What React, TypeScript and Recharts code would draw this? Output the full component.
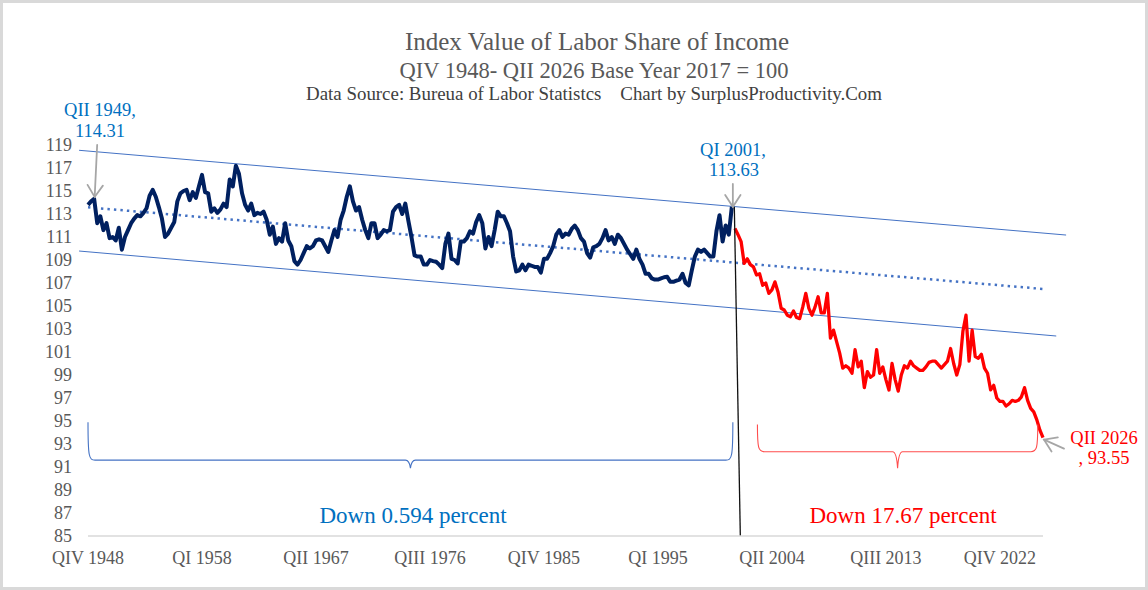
import React from 'react';
import { LineChart, Line, XAxis, YAxis, ReferenceLine } from 'recharts';

// quarterly index, QIV 1948 (index 0) .. QI 2001 (index 209)
const blueValues = [
  113.8, 114.1, 114.31, 112.2, 112.8, 111.6, 112.2, 110.9, 111.0, 110.7,
  111.8, 109.9, 111.0, 111.6, 112.2, 112.6, 112.9, 112.8, 113.1, 113.5,
  114.6, 115.1, 114.5, 113.6, 112.6, 111.0, 111.3, 111.8, 112.3, 114.1,
  114.8, 115.0, 115.1, 114.2, 114.9, 114.4, 115.4, 116.4, 114.9, 114.8,
  113.2, 113.5, 113.1, 113.4, 113.9, 113.6, 116.0, 115.4, 117.2, 116.5,
  114.8, 113.8, 113.3, 113.9, 112.9, 113.1, 113.0, 113.2, 112.5, 111.2,
  111.9, 110.4, 110.9, 110.6, 112.2, 110.7, 110.2, 108.9, 108.6, 109.0,
  109.6, 110.2, 110.0, 110.2, 110.7, 110.8, 110.7, 110.2, 109.7, 110.7,
  111.6, 111.0, 112.5, 113.3, 114.5, 115.4, 114.1, 113.3, 113.6, 112.5,
  111.6, 110.9, 112.2, 112.2, 110.9, 111.2, 111.6, 111.5, 111.6, 113.2,
  113.6, 113.8, 113.0, 113.9, 112.4, 111.0, 109.4, 109.3, 109.3, 108.6,
  108.6, 109.0, 108.9, 108.85, 108.6, 108.3, 110.4, 111.3, 109.1, 109.0,
  108.7, 110.6, 110.6, 110.9, 111.5, 111.3, 112.3, 112.9, 112.2, 110.0,
  111.0, 110.2, 111.6, 113.2, 112.8, 112.8, 112.2, 111.5, 109.3, 108.0,
  108.1, 108.6, 108.1, 108.6, 108.5, 108.4, 108.4, 107.9, 109.1, 109.1,
  109.6, 110.2, 111.2, 111.6, 111.0, 111.3, 111.2, 111.7, 112.0, 111.6,
  110.9, 110.6, 109.6, 109.2, 110.1, 110.2, 110.4, 110.9, 111.6, 110.7,
  111.0, 110.4, 111.2, 110.9, 110.4, 109.9, 109.5, 109.1, 109.9, 109.1,
  108.6, 107.8, 107.8, 107.4, 107.3, 107.3, 107.4, 107.5, 107.55, 107.1,
  107.1, 107.2, 107.3, 107.8, 107.0, 106.8, 108.1, 109.3, 109.9, 109.7,
  109.9, 109.6, 109.3, 109.3, 111.5, 112.9, 110.6, 112.0, 111.2, 113.63,
];

// QII 2001 (index 210) .. QII 2026 (index 310)
const redValues = [
  111.75, 111.2, 110.6, 108.7, 109.1, 108.6, 108.4, 107.7, 107.8, 106.8,
  107.0, 106.1, 106.4, 107.1, 106.2, 104.8, 104.65, 104.2, 104.07, 104.57,
  104.0, 103.9, 104.9, 106.1, 104.8, 104.2, 104.9, 105.8, 104.4, 104.4,
  106.1, 102.2, 102.9, 101.9, 100.9, 99.6, 99.8, 99.6, 99.15, 101.2,
  99.7, 100.2, 97.9, 99.3, 98.8, 99.0, 101.2, 99.15, 99.7, 98.6,
  97.7, 100.0, 98.6, 97.6, 99.0, 99.8, 99.6, 100.2, 99.8, 99.6,
  99.4, 99.4, 99.7, 100.1, 100.2, 100.2, 99.9, 99.6, 99.9, 100.2,
  101.3, 100.0, 99.0, 99.9, 102.8, 104.2, 100.2, 102.9, 100.6, 100.45,
  100.8, 99.6, 99.15, 97.7, 98.1, 97.0, 96.7, 96.7, 96.3, 96.5,
  96.8, 96.7, 96.8, 97.1, 97.9, 96.8, 96.1, 95.8, 95.1, 94.2,
  93.55,
];

const xTickIdx = [0, 37, 74, 111, 148, 185, 222, 259, 296];
const xTickLabels = ['QIV 1948', 'QI 1958', 'QII 1967', 'QIII 1976', 'QIV 1985', 'QI 1995', 'QII 2004', 'QIII 2013', 'QIV 2022'];
const yTicks = [85, 87, 89, 91, 93, 95, 97, 99, 101, 103, 105, 107, 109, 111, 113, 115, 117, 119];

// lines drawn over the series: [index, value] end points
const upperBand = [[-2.9, 118.54], [317.5, 111.17]];
const lowerBand = [[-2.9, 109.78], [314.3, 102.39]];
const trendLine = [[0, 113.58], [310, 106.48]];
const splitLine = [[209.8, 113.63], [211.75, 85]];

const data = [...blueValues, ...redValues].map((_, i) => ({
  i,
  blue: i < blueValues.length ? blueValues[i] : undefined,
  red: i >= blueValues.length ? redValues[i - blueValues.length] : undefined,
}));

const W = 1148;
const H = 590;
const M = { top: 145, right: 105, bottom: 24, left: 0 };
const Y_AXIS_W = 88;
const X_AXIS_H = 30;
const LAST = data.length - 1;
const X0 = M.left + Y_AXIS_W;
const X1 = W - M.right;
const Y0 = M.top;
const Y1 = H - M.bottom - X_AXIS_H;

const px = (i: number) => X0 + (i / LAST) * (X1 - X0);
const py = (v: number) => Y0 + ((119 - v) / (119 - 85)) * (Y1 - Y0);

const FONT = "'Liberation Serif', 'Times New Roman', serif";
const BLUE_TXT = '#0070c0';

const seg = (p: number[][]) => [{ x: p[0][0], y: p[0][1] }, { x: p[1][0], y: p[1][1] }];

const Arrow = ({ x1, y1, x2, y2 }: { x1: number; y1: number; x2: number; y2: number }) => {
  const a = Math.atan2(y2 - y1, x2 - x1);
  const L = 14;
  const s = 0.58;
  const h1 = [x2 - L * Math.cos(a - s), y2 - L * Math.sin(a - s)];
  const h2 = [x2 - L * Math.cos(a + s), y2 - L * Math.sin(a + s)];
  return (
    <g stroke="#a6a6a6" strokeWidth={1.8} fill="none" strokeLinecap="round">
      <line x1={x1} y1={y1} x2={x2} y2={y2} />
      <polyline points={`${h1[0]},${h1[1]} ${x2},${y2} ${h2[0]},${h2[1]}`} />
    </g>
  );
};

const brace = (xL: number, xR: number, yTop: number, yMid: number, yTip: number) => {
  const xc = (xL + xR) / 2;
  return `M${xL},${yTop} C${xL},${yMid - 3} ${xL + 1},${yMid} ${xL + 7},${yMid} L${xc - 5},${yMid} Q${xc - 1},${yMid} ${xc},${yTip} Q${xc + 1},${yMid} ${xc + 5},${yMid} L${xR - 7},${yMid} C${xR - 1},${yMid} ${xR},${yMid - 3} ${xR},${yTop}`;
};

const Overlay = () => {
  const last = data.length - 1;
  return (
    <svg width={W} height={H} style={{ position: 'absolute', left: 0, top: 0, pointerEvents: 'none' }} fontFamily={FONT}>
      <text x={597} y={50} textAnchor="middle" fontSize={25} fill="#595959">Index Value of Labor Share of Income</text>
      <text x={594} y={77.5} textAnchor="middle" fontSize={22.5} fill="#595959">QIV 1948- QII 2026 Base Year 2017 = 100</text>
      <text x={594} y={100} textAnchor="middle" fontSize={18.9} fill="#404040">
        {'Data Source: Bureua of Labor Statistcs\u00A0\u00A0\u00A0\u00A0Chart by SurplusProductivity.Com'}
      </text>

      {/* point call-outs */}
      <text x={100} y={115.5} textAnchor="middle" fontSize={18.5} fill={BLUE_TXT}>QII 1949,</text>
      <text x={100} y={136.5} textAnchor="middle" fontSize={18.5} fill={BLUE_TXT}>114.31</text>
      <Arrow x1={px(2) + 3} y1={145} x2={px(2) + 0.5} y2={py(blueValues[2]) - 2} />

      <text x={733} y={156} textAnchor="middle" fontSize={18.5} fill={BLUE_TXT}>QI 2001,</text>
      <text x={734} y={176} textAnchor="middle" fontSize={18.5} fill={BLUE_TXT}>113.63</text>
      <Arrow x1={px(209) + 1} y1={184} x2={px(209) + 1} y2={py(blueValues[209])} />

      <text x={1104} y={444} textAnchor="middle" fontSize={18.5} fill="#ff0000">QII 2026</text>
      <text x={1104} y={464} textAnchor="middle" fontSize={18.5} fill="#ff0000">, 93.55</text>
      <Arrow x1={px(last) + 21} y1={py(redValues[redValues.length - 1]) + 11} x2={px(last) + 1} y2={py(redValues[redValues.length - 1]) + 2} />

      {/* braces */}
      <path d={brace(px(0), px(209) + 1, py(94.9), py(91.6), py(90.9))} stroke="#4472c4" strokeWidth={1.1} fill="none" />
      <path d={brace(px(217.3), px(308.3), py(94.7), py(92.33), py(90.9))} stroke="#ff4d4d" strokeWidth={1.1} fill="none" />

      <text x={413} y={523} textAnchor="middle" fontSize={23} fill={BLUE_TXT}>Down 0.594 percent</text>
      <text x={903} y={523} textAnchor="middle" fontSize={23} fill="#ff0000">Down 17.67 percent</text>
    </svg>
  );
};

const App: React.FC = () => {
  return (
    <div style={{ position: 'relative', width: W, height: H, background: '#fff' }}>
      <style>{'body{margin:0}'}</style>
      <LineChart width={W} height={H} data={data} margin={M}>
        <XAxis
          dataKey="i"
          type="number"
          domain={[0, LAST]}
          ticks={xTickIdx}
          tickFormatter={(v: number) => xTickLabels[xTickIdx.indexOf(v)] ?? ''}
          height={X_AXIS_H}
          interval={0}
          tickLine={false}
          tickSize={0}
          tickMargin={15}
          axisLine={{ stroke: '#d9d9d9', strokeWidth: 1.5 }}
          tick={{ fill: '#595959', fontSize: 18, fontFamily: FONT }}
        />
        <YAxis
          type="number"
          domain={[85, 119]}
          ticks={yTicks}
          interval={0}
          width={Y_AXIS_W}
          axisLine={false}
          tickLine={false}
          tickSize={0}
          tickMargin={16}
          tick={{ fill: '#595959', fontSize: 18, fontFamily: FONT }}
        />
        <ReferenceLine segment={seg(upperBand)} stroke="#4472c4" strokeWidth={1} ifOverflow="visible" />
        <ReferenceLine segment={seg(lowerBand)} stroke="#4472c4" strokeWidth={1} ifOverflow="visible" />
        <ReferenceLine segment={seg(trendLine)} stroke="#4472c4" strokeWidth={2.5} strokeDasharray="2.4 4.1" ifOverflow="visible" />
        <Line dataKey="blue" stroke="#002060" strokeWidth={4} dot={false} isAnimationActive={false} strokeLinejoin="round" />
        <Line dataKey="red" stroke="#ff0000" strokeWidth={3.3} dot={false} isAnimationActive={false} strokeLinejoin="round" />
        <ReferenceLine segment={seg(splitLine)} stroke="#111" strokeWidth={1.3} ifOverflow="visible" />
      </LineChart>
      <Overlay />
      <div style={{ position: 'absolute', inset: 0, border: '3px solid #d9d9d9', pointerEvents: 'none' }} />
    </div>
  );
};

export default App;
